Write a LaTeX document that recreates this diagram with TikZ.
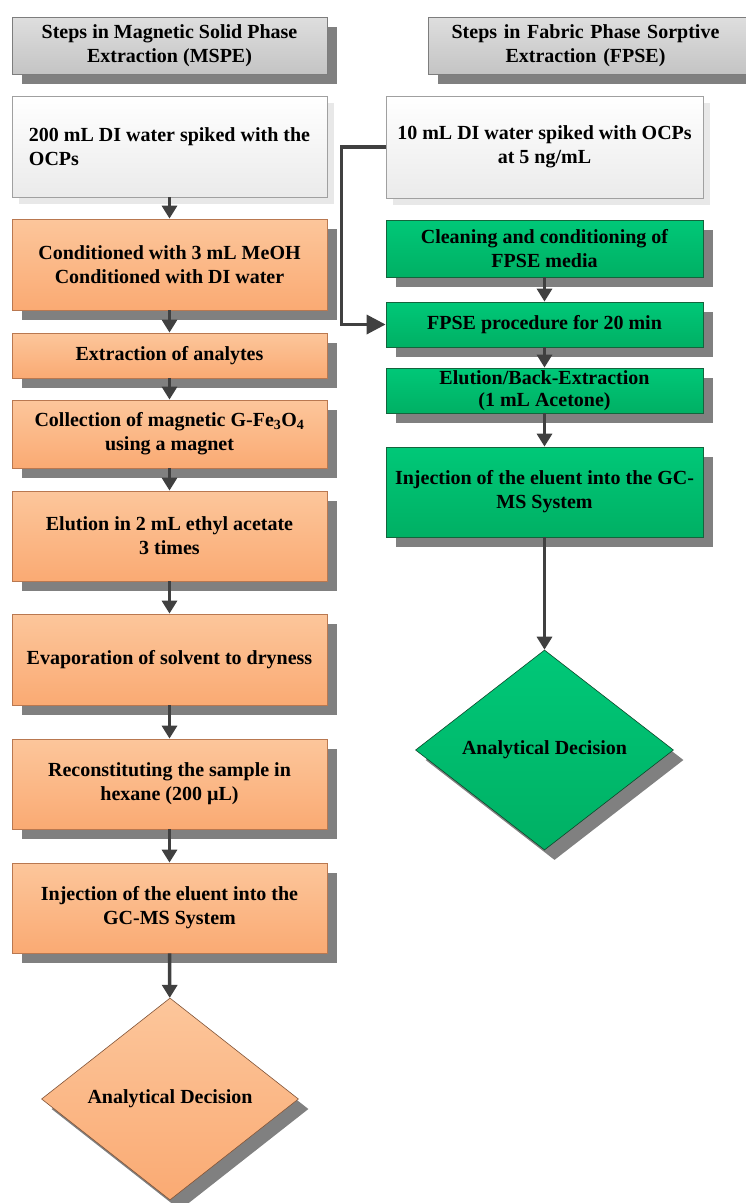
\documentclass[tikz,border=0pt]{standalone}
\usepackage{fontspec}
\setmainfont{Liberation Serif}
\usetikzlibrary{shapes.geometric,shadows,arrows.meta}
\definecolor{shadowgray}{RGB}{128,128,128}
\definecolor{lightshadow}{RGB}{232,232,232}
\definecolor{ortop}{RGB}{252,198,155}
\definecolor{orbot}{RGB}{250,170,115}
\definecolor{orborder}{RGB}{185,120,80}
\definecolor{grtop}{RGB}{0,200,120}
\definecolor{grbot}{RGB}{0,176,100}
\definecolor{grborder}{RGB}{20,100,60}
\definecolor{hdtop}{RGB}{222,222,222}
\definecolor{hdbot}{RGB}{196,196,196}
\definecolor{hdborder}{RGB}{125,125,125}
\definecolor{whborder}{RGB}{160,160,160}
\definecolor{connc}{RGB}{64,64,64}
\tikzset{
  txt/.style={font=\fontsize{20}{24}\selectfont\bfseries, text=black, align=center},
  darkshadow/.style={general shadow={shadow xshift=10pt, shadow yshift=-10pt, fill=shadowgray}},
  paleshadow/.style={general shadow={shadow xshift=7pt, shadow yshift=-7pt, fill=lightshadow}},
  header/.style={txt, rectangle, draw=hdborder, line width=0.8pt, top color=hdtop, bottom color=hdbot, darkshadow, inner sep=0pt, minimum height=57pt},
  whitebox/.style={txt, rectangle, draw=whborder, line width=0.8pt, top color=white, bottom color=white!92!black, paleshadow, inner sep=0pt},
  orbox/.style={txt, rectangle, draw=orborder, line width=0.8pt, top color=ortop, bottom color=orbot, darkshadow, inner sep=0pt, minimum width=315pt},
  grbox/.style={txt, rectangle, draw=grborder, line width=0.8pt, top color=grtop, bottom color=grbot, darkshadow, inner sep=0pt, minimum width=317pt},
  ordiam/.style={txt, diamond, aspect=1.27, draw=orborder!70!black, line width=0.6pt, top color=ortop, bottom color=orbot, darkshadow, inner sep=0pt, minimum width=257pt, minimum height=202pt},
  grdiam/.style={txt, diamond, aspect=1.29, draw=grborder!70!black, line width=0.6pt, top color=grtop, bottom color=grbot, darkshadow, inner sep=0pt, minimum width=258pt, minimum height=200pt},
  conn/.style={draw=connc, line width=3.5pt, -{Triangle[width=15pt,length=13pt]}},
  sideconn/.style={draw=connc, line width=3.5pt, -{Triangle[width=19pt,length=19pt]}}
}
\begin{document}
\begin{tikzpicture}[x=1pt,y=-1pt]
\useasboundingbox (0,0) rectangle (745,1203);
% headers
\node[header, minimum width=315pt] (h1) at (169.5,45.5) {Steps in Magnetic Solid Phase\\Extraction (MSPE)};
\node[header, minimum width=332pt, text width=315pt] (h2) at (594,45.5) {\hspace*{-17pt}Steps in Fabric Phase Sorptive\\\hspace*{-17pt}Extraction (FPSE)};
% left column
\node[whitebox, align=left, minimum width=315pt, minimum height=101pt] (b1) at (169.5,146.5) {200 mL DI water spiked with the\\OCPs};
\node[orbox, minimum height=91pt] (b2) at (169.5,264.5) {Conditioned with 3 mL MeOH\\Conditioned with DI water};
\node[orbox, minimum height=45pt] (b3) at (169.5,355.5) {Extraction of analytes};
\node[orbox, minimum height=68pt] (b4) at (169.5,434) {Collection of magnetic G-Fe\textsubscript{3}O\textsubscript{4}\\using a magnet};
\node[orbox, minimum height=90pt] (b5) at (169.5,536) {Elution in 2 mL ethyl acetate\\3 times};
\node[orbox, minimum height=91pt] (b6) at (169.5,659.5) {Evaporation of solvent to dryness};
\node[orbox, minimum height=90pt] (b7) at (169.5,784) {Reconstituting the sample in\\hexane (200 µL)};
\node[orbox, minimum height=90pt] (b8) at (169.5,908) {Injection of the eluent into the\\GC-MS System};
\node[ordiam] (d1) at (170,1099) {Analytical Decision};
% right column
\node[whitebox, minimum width=317pt, minimum height=102pt] (w2) at (544.5,147) {10 mL DI water spiked with OCPs\\at 5 ng/mL};
\node[grbox, minimum height=57pt] (g1) at (544.5,248.5) {Cleaning and conditioning of\\FPSE media};
\node[grbox, minimum height=45pt] (g2) at (544.5,324.5) {FPSE procedure for 20 min};
\node[grbox, minimum height=45pt, font=\fontsize{20}{22}\selectfont\bfseries] (g3) at (544.5,390.5) {Elution/Back-Extraction\\(1 mL Acetone)};
\node[grbox, minimum height=90pt] (g4) at (544.5,492) {Injection of the eluent into the GC-\\MS System};
\node[grdiam] (d2) at (544.5,750) {Analytical Decision};
% connectors
\draw[conn] (b1) -- (b2);
\draw[conn] (b2) -- (b3);
\draw[conn] (b3) -- (b4);
\draw[conn] (b4) -- (b5);
\draw[conn] (b5) -- (b6);
\draw[conn] (b6) -- (b7);
\draw[conn] (b7) -- (b8);
\draw[conn] (b8) -- (d1);
\draw[conn] (g1) -- (g2);
\draw[conn] (g2) -- (g3);
\draw[conn] (g3) -- (g4);
\draw[conn] (g4) -- (d2);
\draw[sideconn] (w2.west) -- ++(-44,0) |- (g2.west);
\end{tikzpicture}
\end{document}
